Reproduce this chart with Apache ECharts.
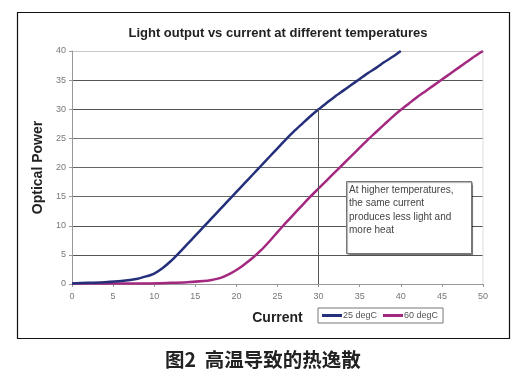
<!DOCTYPE html>
<html><head><meta charset="utf-8">
<script src="https://cdn.jsdelivr.net/npm/echarts@6/dist/echarts.min.js"></script>
<style>html,body{margin:0;padding:0;background:#fff}#c{width:523px;height:384px}</style>
</head><body><div id="c"></div>
<script>
const currents25 = [0,2,4,6,8,9,10,11,12,13,14,15,16,17,18,19,20,21,22,23,24,25,26,27,28,29,30,31,32,33,34,35,36,37,38,39,40];
const power25    = [0.1,0.2,0.3,0.5,0.9,1.3,1.8,2.7,3.9,5.3,6.8,8.3,9.8,11.3,12.8,14.3,15.8,17.3,18.8,20.3,21.8,23.3,24.8,26.2,27.5,28.8,30.0,31.1,32.2,33.2,34.2,35.2,36.2,37.1,38.1,39.0,40];
const currents60 = [0,5,9,12,14,16,17,18,19,20,21,22,23,24,25,26,27,28,29,30,31,32,33,34,35,36,37,38,39,40,41,42,43,44,45,46,47,48,49,50];
const power60    = [0.1,0.1,0.1,0.2,0.3,0.5,0.7,1.0,1.6,2.4,3.4,4.5,5.8,7.3,8.9,10.5,12.0,13.5,15.0,16.4,17.8,19.2,20.6,22.0,23.4,24.8,26.1,27.4,28.7,29.9,31.0,32.1,33.1,34.1,35.1,36.1,37.1,38.1,39.1,40];
const seriesNames = ['25 degC','60 degC'];
const xTicks = [0,5,10,15,20,25,30,35,40,45,50];
const yTicks = [0,5,10,15,20,25,30,35,40];
const markerCurrent = 30;
const markerPower = 30;
const titleText = 'Light output vs current at different temperatures';
const xName = 'Current';
const yName = 'Optical Power';
const noteLines = ['At higher temperatures,','the same current','produces less light and','more heat'];
const caption = '图2  高温导致的热逸散';

const zip = (a,b) => a.map((v,i)=>[v,b[i]]);
const chart = echarts.init(document.getElementById('c'));
const F = '"Liberation Sans", Arial, sans-serif';
chart.setOption({
  animation:false,
  textStyle:{fontFamily:F},
  title:{text:titleText,left:273,top:22,textAlign:'center',textStyle:{fontSize:13,fontWeight:'bold',color:'#222',fontFamily:F}},
  grid:{left:72,right:40,top:51,bottom:100},
  xAxis:{type:'value',min:xTicks[0],max:xTicks[xTicks.length-1],interval:5,
    name:xName,nameLocation:'middle',nameGap:27,nameTextStyle:{fontSize:14,fontWeight:'bold',color:'#222'},
    axisLine:{show:true,lineStyle:{color:'#999'}},axisTick:{show:true,length:3,lineStyle:{color:'#999'}},
    axisLabel:{fontSize:9,color:'#777',margin:8},
    splitLine:{show:false}},
  yAxis:{type:'value',min:yTicks[0],max:yTicks[yTicks.length-1],interval:5,
    name:yName,nameLocation:'middle',nameGap:19,nameTextStyle:{fontSize:14,fontWeight:'bold',color:'#222'},
    axisLine:{show:true,lineStyle:{color:'#999'}},axisTick:{show:true,length:3,lineStyle:{color:'#999'}},
    axisLabel:{fontSize:9,color:'#777',margin:6},
    splitLine:{show:true,lineStyle:{color:['#999','#555','#555','#666','#666','#777','#555','#555','#c8c8c8'],width:1}}},
  legend:{left:318,top:308,orient:'horizontal',itemWidth:20,itemHeight:3,itemGap:6,padding:[3,5,3,4],
    borderColor:'#777',borderWidth:1,icon:'rect',
    textStyle:{fontSize:9,color:'#555',padding:[0,0,0,-4]},data:seriesNames},
  series:[
    {name:seriesNames[1],type:'line',data:zip(currents60,power60),smooth:0.25,showSymbol:false,
      lineStyle:{color:'#a3287f',width:2.5},itemStyle:{color:'#a3287f'}},
    {name:seriesNames[0],type:'line',data:zip(currents25,power25),smooth:0.25,showSymbol:false,
      lineStyle:{color:'#25307a',width:2.5},itemStyle:{color:'#25307a'},
      markLine:{silent:true,symbol:'none',label:{show:false},lineStyle:{color:'#555',width:1,type:'solid'},
        data:[[{coord:[markerCurrent,0]},{coord:[markerCurrent,markerPower]}]]}},
    {type:'line',data:[[xTicks[xTicks.length-1],yTicks[0]],[xTicks[xTicks.length-1],yTicks[yTicks.length-1]]],showSymbol:false,silent:true,
      lineStyle:{color:'#ddd',width:1},z:1}
  ],
  graphic:[
    {type:'rect',shape:{x:17.5,y:12.5,width:492,height:326},style:{fill:'none',stroke:'#111',lineWidth:1.2},silent:true},
    {type:'rect',shape:{x:346.5,y:181.5,width:125,height:72},style:{fill:'#fff',stroke:'#777',lineWidth:1,shadowColor:'rgba(0,0,0,0.35)',shadowOffsetX:1,shadowOffsetY:1,shadowBlur:1},z:100},
    {type:'text',left:349,top:183,z:101,style:{text:noteLines.join('\n'),fontSize:10,lineHeight:13.5,fill:'#444',fontFamily:F}},
    {type:'text',left:165,top:350,style:{text:caption,fontSize:19.5,fontWeight:'bold',fill:'#222',fontFamily:'"Noto Sans CJK SC", sans-serif'}}
  ]
});
</script></body></html>
